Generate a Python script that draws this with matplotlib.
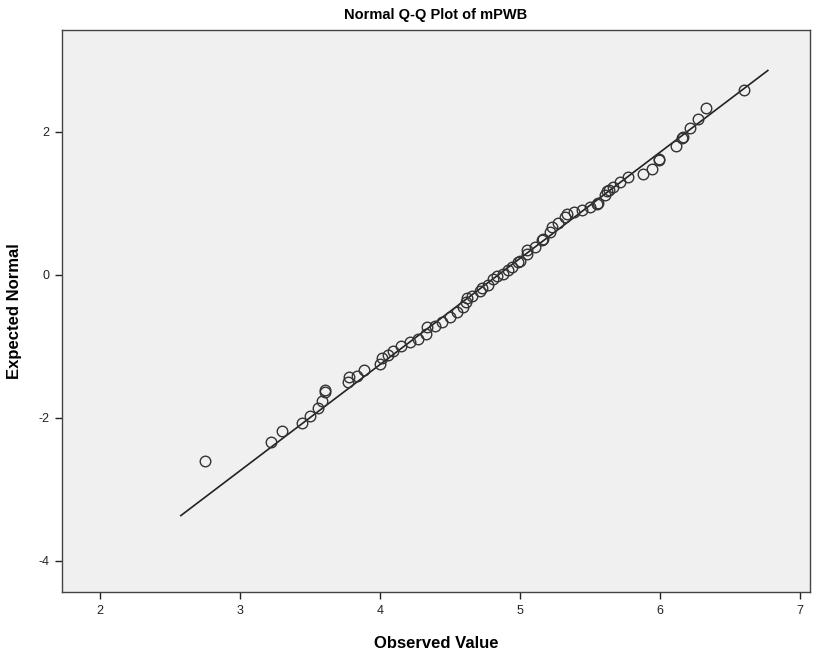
import matplotlib.pyplot as plt

# Observed mPWB scores and their expected normal quantiles
observed = [2.753, 3.224, 3.303, 3.445, 3.503, 3.560, 3.588, 3.610, 3.610,
            3.774, 3.781, 3.838, 3.888, 4.002, 4.016, 4.059, 4.095, 4.152,
            4.216, 4.273, 4.331, 4.338, 4.395, 4.445, 4.502, 4.552, 4.595,
            4.616, 4.623, 4.659, 4.716, 4.730, 4.773, 4.810, 4.840, 4.880,
            4.916, 4.944, 4.987, 5.001, 5.051, 5.051, 5.108, 5.158, 5.165,
            5.216, 5.230, 5.273, 5.323, 5.337, 5.387, 5.444, 5.501, 5.551,
            5.558, 5.608, 5.622, 5.637, 5.665, 5.715, 5.772, 5.879, 5.944,
            5.994, 5.994, 6.115, 6.158, 6.165, 6.215, 6.272, 6.329, 6.601]
expected = [-2.601, -2.336, -2.182, -2.070, -1.972, -1.860, -1.762, -1.636, -1.608,
            -1.497, -1.427, -1.413, -1.329, -1.245, -1.161, -1.119, -1.063, -0.993,
            -0.937, -0.895, -0.825, -0.727, -0.713, -0.657, -0.587, -0.517, -0.448,
            -0.378, -0.322, -0.294, -0.224, -0.182, -0.140, -0.060, -0.020, 0.014,
            0.070, 0.112, 0.182, 0.196, 0.294, 0.350, 0.392, 0.490, 0.503,
            0.601, 0.671, 0.727, 0.811, 0.853, 0.881, 0.909, 0.951, 0.993,
            1.007, 1.119, 1.175, 1.189, 1.231, 1.301, 1.371, 1.413, 1.483,
            1.608, 1.622, 1.804, 1.916, 1.930, 2.056, 2.182, 2.336, 2.587]

# Reference line parameters (mean and SD of the sample)
mean_val = 4.845
sd_val = 0.673
line_x = [2.58, 6.77]
line_y = [(v - mean_val) / sd_val for v in line_x]

x_ticks = [2, 3, 4, 5, 6, 7]
y_ticks = [-4, -2, 0, 2]

plt.rcParams['font.family'] = ['Liberation Sans', 'DejaVu Sans']
plt.rcParams['axes.unicode_minus'] = False

fig = plt.figure(figsize=(8.38, 6.54), dpi=100)
ax = fig.add_axes([0.074, 0.0948, 0.8926, 0.8594])
ax.set_facecolor('#f0f0f0')

ax.plot(line_x, line_y, color='#222222', linewidth=1.2, zorder=2)
ax.plot(observed, expected, linestyle='none', marker='o', markersize=7.6,
        markerfacecolor='none', markeredgecolor='#333333', markeredgewidth=1.0,
        zorder=3)

ax.set_xlim(1.732, 7.071)
ax.set_ylim(-4.434, 3.427)
ax.set_xticks(x_ticks)
ax.set_yticks(y_ticks)
ax.tick_params(direction='out', length=5, width=1, colors='#222222',
               labelsize=9, pad=4)

for side in ax.spines.values():
    side.set_color('#444444')
    side.set_linewidth(1.0)

ax.set_title('Normal Q-Q Plot of mPWB', fontsize=10.5, fontweight='bold', pad=8)
ax.set_xlabel('Observed Value', fontsize=12, fontweight='bold', labelpad=14)
ax.set_ylabel('Expected Normal', fontsize=12, fontweight='bold', labelpad=12)

fig.savefig('out.png', dpi=100, facecolor='white')
